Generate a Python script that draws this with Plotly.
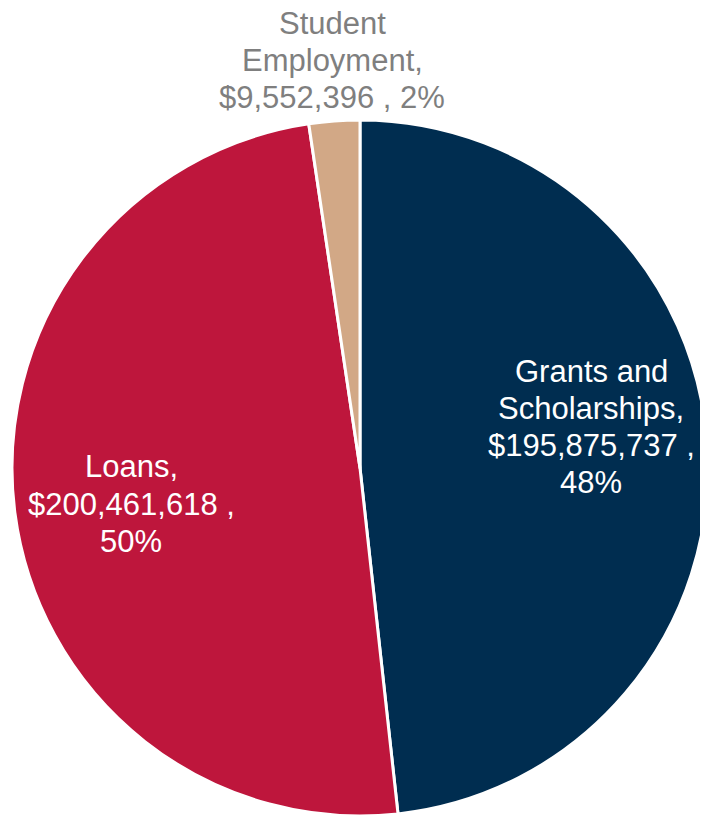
import plotly.graph_objects as go

# Data
categories = ["Grants and Scholarships", "Loans", "Student Employment"]
values = [195875737, 200461618, 9552396]
percent_labels = ["48%", "50%", "2%"]
# label lines: templates filled from the data above
label_lines = [
    ["Grants and", "Scholarships,", "${v} ,", "{p}"],
    ["Loans,", "${v} ,", "{p}"],
    ["Student", "Employment,", "${v} , {p}"],
]

colors = ["#002D50", "#BE163C", "#D2A886"]
W, H = 708, 817
OFF = 8  # default page body margin offset

def px(x):
    return (x - OFF) / W

def py(y):
    return 1 - (y - OFF) / H

fig = go.Figure(go.Pie(
    labels=categories,
    values=values,
    sort=False,
    direction="clockwise",
    rotation=0,
    marker=dict(colors=colors, line=dict(color="white", width=3)),
    textinfo="none",
    hoverinfo="label+value+percent",
    showlegend=False,
    domain=dict(x=[px(12), px(708)], y=[py(816), py(120)]),
))

# first-line centre (page pixels) and line pitch
label_pos = [(591, 371), (131, 467), (332, 23)]
pitch = 37.3
label_colors = ["white", "white", "#7F7F7F"]
for i, cat in enumerate(categories):
    x, y0 = label_pos[i]
    for j, line in enumerate(label_lines[i]):
        txt = line.format(v=f"{values[i]:,}", p=percent_labels[i])
        fig.add_annotation(
            x=px(x), y=py(y0 + j * pitch), xref="paper", yref="paper",
            text=txt, showarrow=False, align="center",
            xanchor="center", yanchor="middle",
            font=dict(family="Liberation Sans, Arial, sans-serif", size=31,
                      color=label_colors[i]),
        )

fig.update_layout(
    width=W, height=H, autosize=False,
    margin=dict(l=0, r=0, t=0, b=0),
    paper_bgcolor="white", plot_bgcolor="white",
)

fig.write_html("out.html")
